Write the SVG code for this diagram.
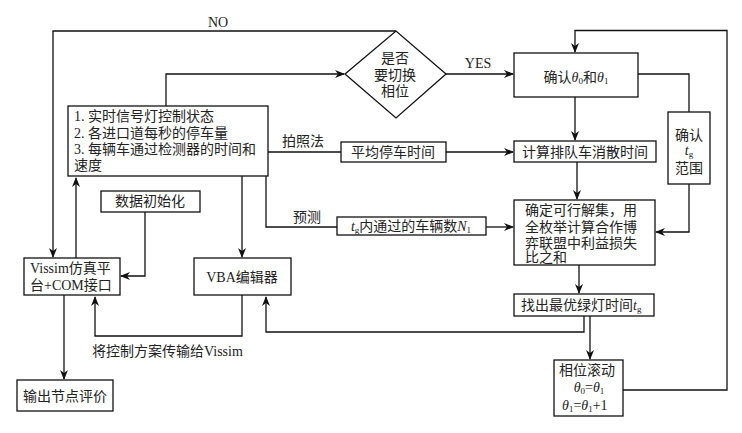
<svg xmlns="http://www.w3.org/2000/svg" width="742" height="433" viewBox="0 0 742 433">
<defs>
<marker id="ar" markerWidth="10" markerHeight="8" refX="9" refY="4" orient="auto" markerUnits="userSpaceOnUse">
<path d="M0,0 L10,4 L0,8 L3,4 Z" fill="#111"/>
</marker>
<style>
.box{fill:#fff;stroke:#111;stroke-width:1.3}
.t{font-family:"Liberation Serif","Noto Sans CJK SC",serif;font-size:14px;fill:#222}
.c{text-anchor:middle}
.ln{fill:none;stroke:#111;stroke-width:1.3}
.ar{marker-end:url(#ar)}
.i{font-style:italic}
.s{font-size:9px}
</style>
</defs>
<rect width="742" height="433" fill="#fff"/>
<g id="connectors">
<path class="ln ar" d="M396,31 H53 V257"/>
<path class="ln ar" d="M166,106 V74 H344"/>
<path class="ln ar" d="M446,74 H513"/>
<path class="ln ar" d="M623,390 H727 V30.5 H575 V52"/>
<path class="ln" d="M638,74 H689 V112"/>
<path class="ln ar" d="M689,184 V232 H656"/>
<path class="ln ar" d="M575,97 V140"/>
<path class="ln" d="M268,152 H341"/>
<path class="ln ar" d="M446,152 H513"/>
<path class="ln ar" d="M577,162 V199" stroke="#777"/>
<path class="ln" d="M266,176 V227 H337"/>
<path class="ln ar" d="M486,227 H513"/>
<path class="ln ar" d="M242,176 V257"/>
<path class="ln ar" d="M145,212 V276 H121"/>
<path class="ln ar" d="M76,258 V178"/>
<path class="ln ar" d="M242,295 V336 H95 V297"/>
<path class="ln ar" d="M64,295 V379"/>
<path class="ln ar" d="M579,265 V293"/>
<path class="ln ar" d="M584,316 V332 H266 V297"/>
<path class="ln ar" d="M590,316 V359"/>
<text class="t c" x="218" y="27">NO</text>
<text class="t c" x="478" y="68">YES</text>
<text class="t c" x="303" y="146">拍照法</text>
<text class="t c" x="307" y="222">预测</text>
<text class="t" x="92" y="356">将控制方案传输给Vissim</text>
</g>
<g id="info">
<rect class="box" x="68" y="106" width="200" height="70"/>
<text class="t" x="74" y="121">1. 实时信号灯控制状态</text>
<text class="t" x="74" y="138">2. 各进口道每秒的停车量</text>
<text class="t" x="74" y="154">3. 每辆车通过检测器的时间和</text>
<text class="t" x="74" y="170">速度</text>
</g>
<g id="decision">
<polygon class="box" points="345,74 396,31 446,74 396,118"/>
<text class="t c" x="395" y="63">是否</text>
<text class="t c" x="395" y="80">要切换</text>
<text class="t c" x="395" y="96">相位</text>
</g>
<g id="confirm-theta">
<rect class="box" x="514" y="53" width="124" height="44"/>
<text class="t c" x="576" y="82">确认<tspan class="i">θ</tspan><tspan class="s" dy="2">0</tspan><tspan dy="-2">和</tspan><tspan class="i">θ</tspan><tspan class="s" dy="2">1</tspan></text>
</g>
<g id="confirm-tg">
<rect class="box" x="668" y="112" width="42" height="72"/>
<text class="t c" x="689" y="140">确认</text>
<text class="t c" x="689" y="155"><tspan class="i">t</tspan><tspan class="s" dy="2">g</tspan></text>
<text class="t c" x="689" y="173">范围</text>
</g>
<g id="avg-stop">
<rect class="box" x="341" y="142" width="105" height="20"/>
<text class="t c" x="393" y="157">平均停车时间</text>
</g>
<g id="queue">
<rect class="box" x="514" y="141" width="142" height="21"/>
<text class="t c" x="585" y="157">计算排队车消散时间</text>
</g>
<g id="predict">
<rect class="box" x="337" y="217" width="149" height="18"/>
<text class="t c" x="411" y="231"><tspan class="i">t</tspan><tspan class="s" dy="2">g</tspan><tspan dy="-2">内通过的车辆数</tspan><tspan class="i">N</tspan><tspan class="s" dy="2">1</tspan></text>
</g>
<g id="feasible">
<rect class="box" x="514" y="200" width="141" height="65"/>
<text class="t" x="525" y="215">确定可行解集，用</text>
<text class="t" x="525" y="232">全枚举计算合作博</text>
<text class="t" x="525" y="248">弈联盟中利益损失</text>
<text class="t" x="525" y="262">比之和</text>
</g>
<g id="best">
<rect class="box" x="514" y="294" width="140" height="22"/>
<text class="t" x="521" y="310">找出最优绿灯时间<tspan class="i">t</tspan><tspan class="s" dy="2">g</tspan></text>
</g>
<g id="roll">
<rect class="box" x="554" y="360" width="69" height="56"/>
<text class="t" x="559" y="375">相位滚动</text>
<text class="t c" x="589" y="392"><tspan class="i">θ</tspan><tspan class="s" dy="2">0</tspan><tspan dy="-2">=</tspan><tspan class="i">θ</tspan><tspan class="s" dy="2">1</tspan></text>
<text class="t" x="562" y="410"><tspan class="i">θ</tspan><tspan class="s" dy="2">1</tspan><tspan dy="-2">=</tspan><tspan class="i">θ</tspan><tspan class="s" dy="2">1</tspan><tspan dy="-2">+1</tspan></text>
</g>
<g id="vba">
<rect class="box" x="194" y="258" width="97" height="37"/>
<text class="t c" x="242" y="282">VBA编辑器</text>
</g>
<g id="init">
<rect class="box" x="101" y="191" width="99" height="21"/>
<text class="t c" x="150" y="206">数据初始化</text>
</g>
<g id="vissim">
<rect class="box" x="24" y="258" width="96" height="37"/>
<text class="t" x="30" y="273">Vissim仿真平</text>
<text class="t" x="30" y="290">台+COM接口</text>
</g>
<g id="output">
<rect class="box" x="17" y="380" width="96" height="31"/>
<text class="t c" x="65" y="401">输出节点评价</text>
</g>
</svg>
